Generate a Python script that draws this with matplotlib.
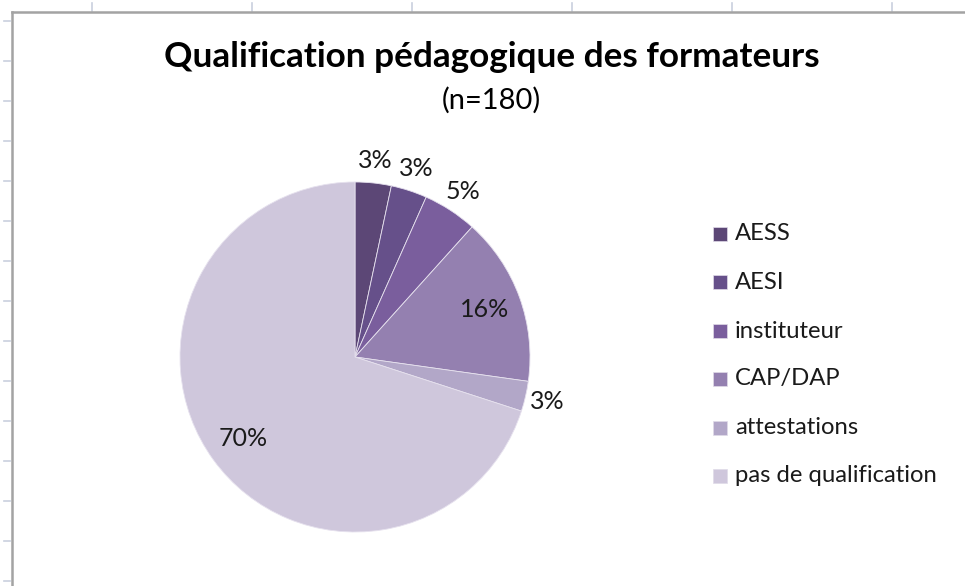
import matplotlib
matplotlib.use("Agg")
import matplotlib.pyplot as plt
from matplotlib.lines import Line2D
import numpy as np

categories = ["AESS", "AESI", "instituteur", "CAP/DAP", "attestations", "pas de qualification"]
counts = [6, 6, 9, 28, 5, 126]
colors = ["#5c4776", "#66508a", "#7a5e9d", "#9480b0", "#b2a7c8", "#cfc7dc"]
title = "Qualification pédagogique des formateurs"
subtitle = "(n=180)"

FONT = "Lato"
W, H = 965, 586
fig = plt.figure(figsize=(W / 100, H / 100), dpi=100)
fig.patch.set_facecolor("white")

# spreadsheet gridline ticks outside the chart frame
for x in [92, 252, 412, 572, 732, 892]:
    fig.add_artist(Line2D([x / W, x / W], [1 - 3 / H, 1 - 11 / H], color="#c9d0de", lw=1.2))
for y in range(21, 586, 40):
    fig.add_artist(Line2D([4 / W, 10 / W], [1 - y / H, 1 - y / H], color="#c9d0de", lw=1.2))
# chart frame
fig.add_artist(Line2D([12 / W, 12 / W], [1 - 12 / H, 0], color="#a3a3a3", lw=1.8))
fig.add_artist(Line2D([12 / W, 1], [1 - 12 / H, 1 - 12 / H], color="#a3a3a3", lw=1.8))

# pie axes: center (355,357), radius 175 px
cx, cy, r = 355, 357, 175
ax = fig.add_axes([(cx - r) / W, 1 - (cy + r) / H, 2 * r / W, 2 * r / H])
wedges, texts, autotexts = ax.pie(
    counts, colors=colors, startangle=90, counterclock=False,
    autopct="%.0f%%", pctdistance=1.13, radius=1.0,
    wedgeprops=dict(edgecolor="#e6e1ee", linewidth=0.6),
    textprops=dict(fontsize=18, family=FONT, color="#1a1a1a"),
)
ax.set_xlim(-1, 1)
ax.set_ylim(-1, 1)
ax.set_aspect("auto")
for w, t in zip(wedges, autotexts):
    frac = (w.theta2 - w.theta1) / 360
    ang = np.deg2rad((w.theta1 + w.theta2) / 2)
    d = 0.79 if frac > 0.1 else 1.13
    t.set_position((d * np.cos(ang), d * np.sin(ang)))
    t.set_ha("center")
    t.set_va("center")

fig.text(492 / W, 1 - 57 / H, title, ha="center", va="center",
         fontsize=25.3, fontweight="bold", family=FONT, color="black")
fig.text(491 / W, 1 - 100 / H, subtitle, ha="center", va="center",
         fontsize=21, family=FONT, color="black")

# legend
ys = [234, 282, 331, 379, 428, 476]
for c, lab, y in zip(colors, categories, ys):
    fig.patches.append(plt.Rectangle((713 / W, 1 - (y + 7) / H), 14 / W, 14 / H,
                                     transform=fig.transFigure, facecolor=c,
                                     edgecolor="#e0dbe8", lw=0.5))
    fig.text(735 / W, 1 - y / H, lab, ha="left", va="center",
             fontsize=17.2, family=FONT, color="#1a1a1a")

fig.savefig("out.png", dpi=100, facecolor="white")
